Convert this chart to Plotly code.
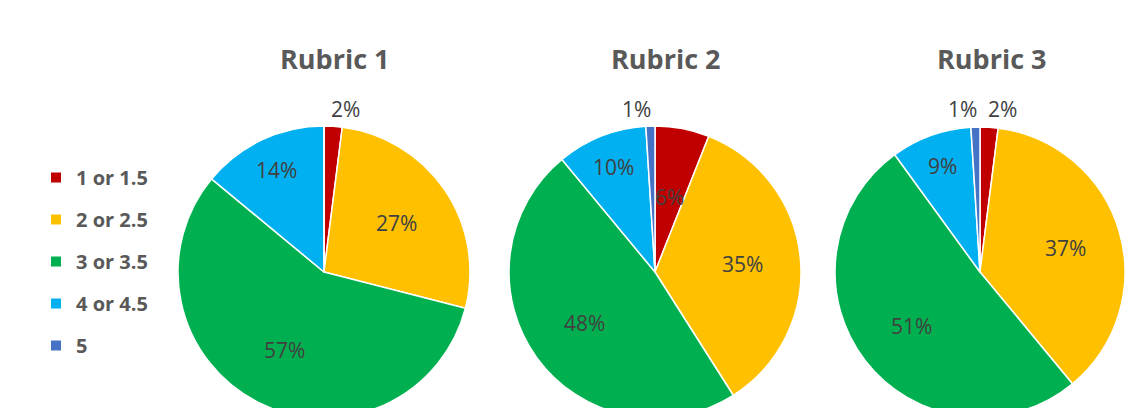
import math
import plotly.graph_objects as go

# ---- data ----
categories = ["1 or 1.5", "2 or 2.5", "3 or 3.5", "4 or 4.5", "5"]
rubric_titles = ["Rubric 1", "Rubric 2", "Rubric 3"]
rubric1 = [2, 27, 57, 14, 0]
rubric2 = [6, 35, 48, 10, 1]
rubric3 = [2, 37, 51, 9, 1]

# ---- style ----
colors = ["#C00000", "#FFC000", "#00B050", "#00B0F0", "#4472C4"]
W, H = 1125, 440
pie_centers = [(324, 272), (655, 272), (981, 272)]
R = 146
FONT = "Open Sans"
TXT = "#404040"
TITLE = "#595959"

fig = go.Figure()
annotations = []

for (cx, cy), vals, title in zip(pie_centers, [rubric1, rubric2, rubric3], rubric_titles):
    fig.add_trace(go.Pie(
        labels=categories, values=vals, sort=False, direction="clockwise", rotation=0,
        marker=dict(colors=colors, line=dict(color="white", width=1.5)),
        textinfo="none", hoverinfo="label+percent", showlegend=False,
        domain=dict(x=[(cx - R) / W, min(1, (cx + R) / W)], y=[1 - (cy + R) / H, 1 - (cy - R) / H]),
    ))
    # title
    annotations.append(dict(text="<b>%s</b>" % title, x=(cx + 11) / W, y=1 - 58 / H, xref="paper", yref="paper",
                            showarrow=False, font=dict(family=FONT, size=27, color=TITLE),
                            xanchor="center", yanchor="middle"))
    # percentage labels
    total = sum(vals)
    cum = 0
    for v in vals:
        if v <= 0:
            continue
        mid = (cum + v / 2) / total * 2 * math.pi
        cum += v
        if v < 3:
            f = 1.12
        elif v < 8:
            f = 0.52
        elif v <= 15:
            f = 0.77
        else:
            f = 0.6
        px = cx + f * R * math.sin(mid)
        py = cy - f * R * math.cos(mid)
        xshift = 0
        if v < 3:
            xshift = 11 if math.sin(mid) > 0 else -13
        annotations.append(dict(text="%d%%" % round(v / total * 100), x=px / W, y=1 - py / H,
                                xref="paper", yref="paper", showarrow=False, xshift=xshift,
                                font=dict(family=FONT, size=21, color=TXT),
                                xanchor="center", yanchor="middle"))

# legend via dummy traces
for i, (cat, col) in enumerate(zip(categories, colors)):
    fig.add_trace(go.Scatter(x=[None], y=[None], mode="markers", name="<b>%s</b>" % cat, legendgroup="g%d" % i,
                             marker=dict(symbol="square", size=10, color=col)))

fig.update_layout(
    width=W, height=H, margin=dict(l=0, r=0, t=0, b=0),
    paper_bgcolor="white", plot_bgcolor="white",
    xaxis=dict(visible=False), yaxis=dict(visible=False),
    annotations=annotations,
    legend=dict(x=36 / W, y=1 - 158 / H, xanchor="left", yanchor="top", tracegroupgap=13,
                font=dict(family=FONT, size=20, color=TITLE), bgcolor="rgba(0,0,0,0)"),
    font=dict(family=FONT),
)

fig.write_html("out.html", post_script="document.body.style.overflow='hidden';document.documentElement.style.overflow='hidden';")
